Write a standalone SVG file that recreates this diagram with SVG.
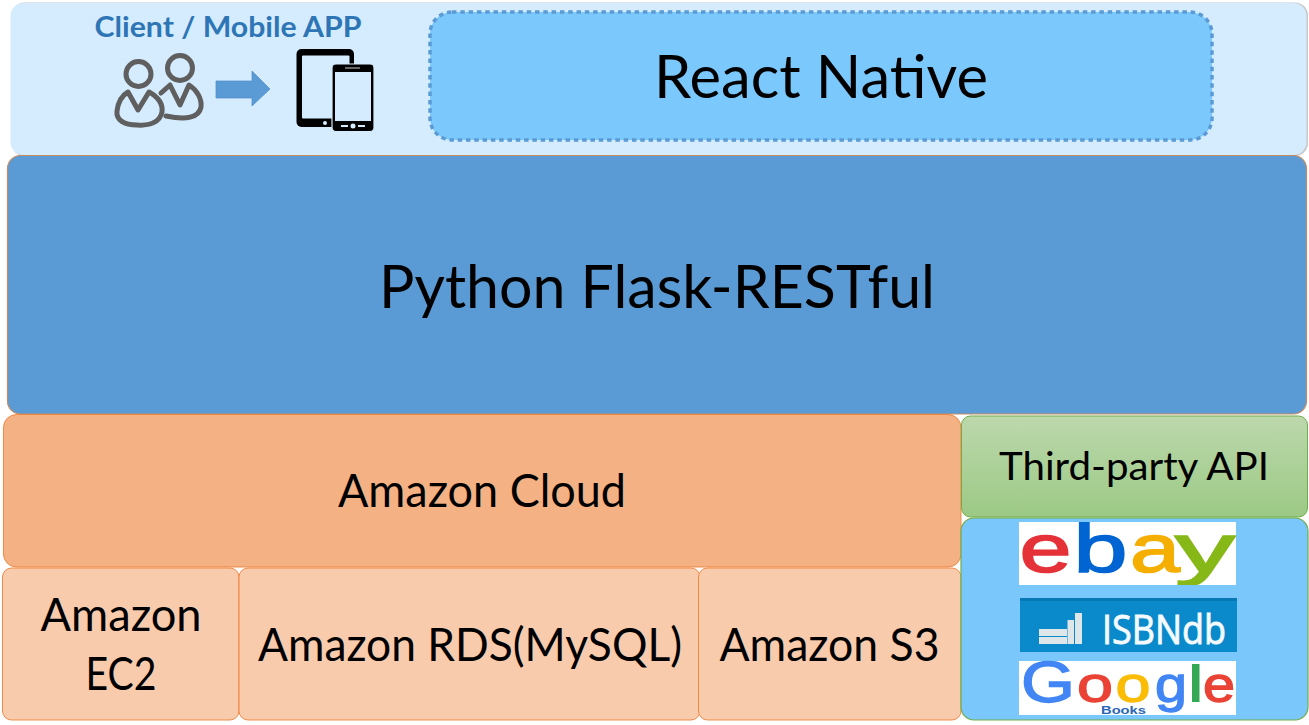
<svg xmlns="http://www.w3.org/2000/svg" width="1309" height="725" viewBox="0 0 1309 725">
<style>
text{font-family:Lato,"Open Sans","Liberation Sans",sans-serif;fill:#000;text-anchor:middle}
.org{stroke:#ed7d31;stroke-width:1;stroke-opacity:.85}
.light{fill:#f8cbad}
.eb{font-family:"Liberation Sans",Arial,sans-serif;font-size:68px;stroke-width:1.600}
.go{font-family:"Liberation Sans",Arial,sans-serif;font-size:50px;stroke-width:1.300}
.ug{fill:none;stroke:#5f5f5f;stroke-width:5;stroke-linejoin:round;stroke-linecap:round}
</style>
<defs>
<linearGradient id="g" x1="0" y1="0" x2="0" y2="1"><stop offset="0" stop-color="#bcd8ac"/><stop offset="1" stop-color="#9cc985"/></linearGradient>
<clipPath id="ebclip"><rect x="1019" y="522" width="217" height="63"/></clipPath>
</defs>
<rect width="1309" height="725" fill="#fff"/>
<g id="client">
<rect x="11.500" y="2.500" width="1296.500" height="153.500" rx="13" fill="#c8c8c8"/>
<rect x="10.500" y="3" width="1296" height="152" rx="13" fill="#d5ecfe"/>
<text x="228" y="37" font-size="29" font-weight="700" style="fill:#2e75b6" textLength="267" lengthAdjust="spacingAndGlyphs">Client / Mobile APP</text>
<g id="users">
<circle class="ug" cx="138.500" cy="74" r="12.500"/>
<circle class="ug" cx="180" cy="68" r="12.500"/>
<path class="ug" d="M128 92L138 110L149 92C158 97 163 104 162 112C160 122 150 126 137 125C124 125 116 120 117 111C118 103 121 96 128 92Z"/>
<path class="ug" d="M161 93L170 85L180 105L189 85C197 90 202 99 201 107C199 118 186 120 166 116"/>
</g>
<path id="arrow" d="M216 81H252V71L270 89L252 106V98H216Z" fill="#5b9bd5" stroke="#4a8bc8" stroke-width=".7"/>
<g id="devices">
<rect x="296.500" y="49" width="57.500" height="78" rx="5" fill="#000"/>
<rect x="302" y="55.500" width="47.500" height="63" rx="1" fill="#d5ecfe"/>
<circle cx="325" cy="123" r="2" fill="#d5ecfe"/>
<rect x="332" y="64" width="42" height="67.500" rx="4" fill="#000" stroke="#d5ecfe" stroke-width="1.200"/>
<rect x="335" y="72" width="36" height="49" fill="#d5ecfe"/>
<rect x="345" y="67.500" width="15" height="1" fill="#ccc"/>
<rect x="341" y="125" width="7" height="2" fill="#d5ecfe"/><circle cx="353" cy="126" r="2.500" fill="#d5ecfe"/><rect x="358" y="125" width="7" height="2" fill="#d5ecfe"/>
</g>
</g>
<g id="react-native">
<rect x="430" y="12" width="782" height="128" rx="22" fill="#7ac8fc" stroke="#5b9bd5" stroke-width="3.500" stroke-dasharray="4.500 3.800"/>
<text x="821" y="98" font-size="60" textLength="334" lengthAdjust="spacingAndGlyphs">React Native</text>
</g>
<g id="flask">
<rect x="7.500" y="155.500" width="1299" height="258.500" rx="13" fill="#5b9bd5" stroke="#c58c64" stroke-width="1.200"/>
<text x="657" y="308" font-size="60" textLength="556" lengthAdjust="spacingAndGlyphs">Python Flask-RESTful</text>
</g>
<g id="amazon-cloud">
<rect class="org" x="3.500" y="414.500" width="957.500" height="152.500" rx="13" fill="#f4b183"/>
<text x="482" y="506.500" font-size="46" textLength="288" lengthAdjust="spacingAndGlyphs">Amazon Cloud</text>
</g>
<g id="ec2">
<rect class="org light" x="2.500" y="568" width="236.500" height="152" rx="9"/>
<text x="121" y="631" font-size="46" textLength="161" lengthAdjust="spacingAndGlyphs">Amazon</text>
<text x="121" y="690" font-size="46" textLength="71" lengthAdjust="spacingAndGlyphs">EC2</text>
</g>
<g id="rds">
<rect class="org light" x="239" y="568" width="461" height="152" rx="9"/>
<text x="470" y="661" font-size="46" textLength="424" lengthAdjust="spacingAndGlyphs">Amazon RDS(MySQL)</text>
</g>
<g id="s3">
<rect class="org light" x="698.500" y="568" width="262.500" height="152" rx="9"/>
<text x="829.500" y="661" font-size="46" textLength="220" lengthAdjust="spacingAndGlyphs">Amazon S3</text>
</g>
<g id="third-party">
<rect x="961.500" y="416" width="346" height="101" rx="9" fill="url(#g)" stroke="#70ad47"/>
<text x="1134" y="480" font-size="38" textLength="270" lengthAdjust="spacingAndGlyphs">Third-party API</text>
</g>
<g id="api-list">
<rect x="961" y="518" width="347" height="202" rx="13" fill="#7ac7fb" stroke="#70ad47" stroke-width="1.200"/>
<g id="ebay">
<rect x="1019" y="522" width="217" height="63" fill="#fff"/>
<g clip-path="url(#ebclip)">
<text class="eb" x="1045.500" y="572" style="fill:#e53238;stroke:#e53238" textLength="52" lengthAdjust="spacingAndGlyphs">e</text>
<text class="eb" x="1100.500" y="572" style="fill:#0064d2;stroke:#0064d2" textLength="54" lengthAdjust="spacingAndGlyphs">b</text>
<text class="eb" x="1155" y="572" style="fill:#f5af02;stroke:#f5af02" textLength="50" lengthAdjust="spacingAndGlyphs">a</text>
<text class="eb" x="1205" y="572" style="fill:#86b817;stroke:#86b817" textLength="60" lengthAdjust="spacingAndGlyphs">y</text>
</g>
</g>
<g id="isbndb">
<rect x="1020" y="598" width="217" height="54" fill="#0a8acb"/>
<rect x="1020" y="598" width="217" height="3" fill="#0878b5"/>
<path d="M1039 629H1067V636H1039ZM1039 637H1067V644H1039ZM1067.500 620H1074V644H1067.500ZM1075 613H1082V644H1075Z" fill="#dfe6ea"/>
<text x="1164" y="644" font-size="40" style="font-family:'Open Sans',sans-serif;fill:#f4fafd;stroke:#f4fafd;stroke-width:.9" textLength="124" lengthAdjust="spacingAndGlyphs">ISBNdb</text>
</g>
<g id="google-books">
<rect x="1019" y="661" width="217" height="54" fill="#fff"/>
<text class="go" x="1048" y="702" style="font-size:57px;fill:#4285f4;stroke:#4285f4" textLength="54" lengthAdjust="spacingAndGlyphs">G</text>
<text class="go" x="1095" y="702" style="fill:#ea4335;stroke:#ea4335" textLength="36" lengthAdjust="spacingAndGlyphs">o</text>
<text class="go" x="1133" y="702" style="fill:#fbbc05;stroke:#fbbc05" textLength="35" lengthAdjust="spacingAndGlyphs">o</text>
<text class="go" x="1171" y="702" style="fill:#4285f4;stroke:#4285f4" textLength="32" lengthAdjust="spacingAndGlyphs">g</text>
<rect x="1192" y="664" width="7.500" height="38" fill="#34a853"/>
<text class="go" x="1219" y="702" style="fill:#ea4335;stroke:#ea4335" textLength="32" lengthAdjust="spacingAndGlyphs">e</text>
<text x="1123.500" y="714" font-size="11" font-weight="700" style="font-family:'Liberation Sans',sans-serif;fill:#2a65b5" textLength="45" lengthAdjust="spacingAndGlyphs">Books</text>
</g>
</g>
</svg>
